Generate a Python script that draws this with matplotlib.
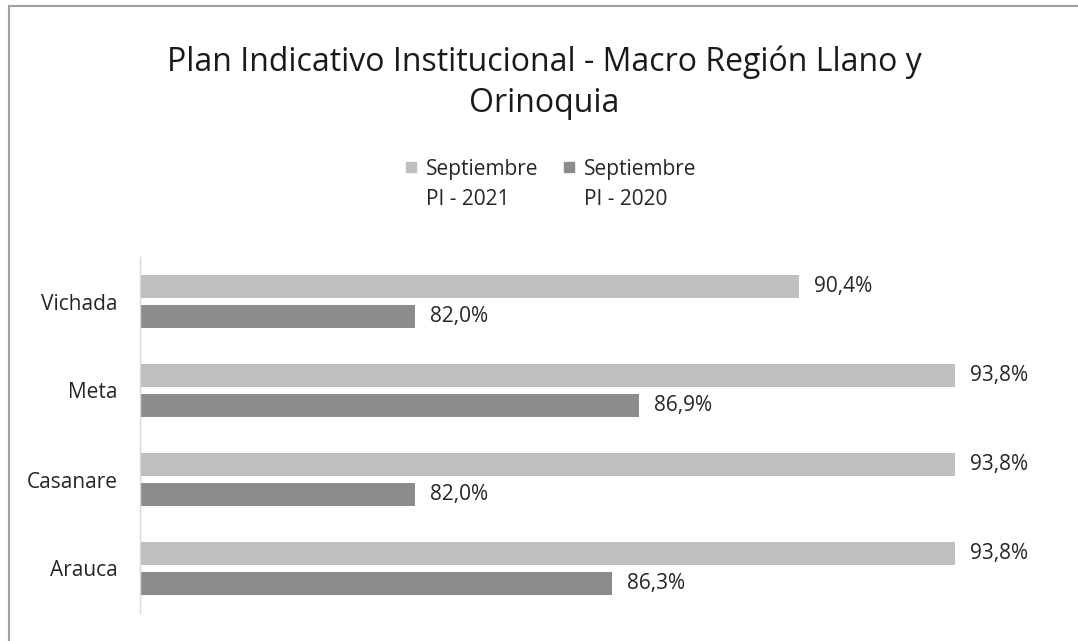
import matplotlib
matplotlib.use("Agg")
import matplotlib.pyplot as plt
from matplotlib.lines import Line2D
from matplotlib.patches import Rectangle

categories = ["Vichada", "Meta", "Casanare", "Arauca"]
series_names = ["Septiembre\nPI - 2021", "Septiembre\nPI - 2020"]
values_2021 = [90.4, 93.8, 93.8, 93.8]
values_2020 = [82.0, 86.9, 82.0, 86.3]
colors = ["#BFBFBF", "#8C8C8C"]

plt.rcParams['font.family'] = ['Open Sans', 'DejaVu Sans']

W, H = 1078, 641
fig = plt.figure(figsize=(W / 100, H / 100), dpi=100)
ax = fig.add_axes([140 / W, 1 - 613 / H, (964 - 140) / W, (613 - 257) / H])

n = len(categories)
ypos = list(range(n))
off = 0.17
h = 0.26
xmin, xmax = 76.0, 94.0
fs = 15

for vals, sgn, col in [(values_2021, -1, colors[0]), (values_2020, 1, colors[1])]:
    ys = [y + sgn * off for y in ypos]
    ax.barh(ys, [v - xmin for v in vals], left=xmin, height=h, color=col)
    for yv, v in zip(ys, vals):
        ax.text(v + 0.33, yv, f"{v:.1f}%".replace(".", ","), va="center", ha="left",
                fontsize=fs, color="#262626")

ax.set_xlim(xmin, xmax)
ax.set_ylim(n - 0.5, -0.5)
ax.set_yticks(ypos)
ax.set_yticklabels(categories, fontsize=fs, color="#262626")
ax.tick_params(axis="y", length=0, pad=16)
ax.set_xticks([])
for s in ["top", "right", "bottom"]:
    ax.spines[s].set_visible(False)
ax.spines["left"].set_color("#D9D9D9")
ax.spines["left"].set_linewidth(1.0)

fig.text(544 / W, 1 - 62 / H, "Plan Indicativo Institucional - Macro Región Llano y",
         ha="center", va="center", fontsize=23, color="#1a1a1a")
fig.text(544 / W, 1 - 104 / H, "Orinoquia", ha="center", va="center",
         fontsize=23, color="#1a1a1a")

# legend
leg_x = [411, 569]
for lx, name, col in zip(leg_x, series_names, colors):
    fig.add_artist(Rectangle(((lx - 5) / W, 1 - 172 / H), 10 / W, 10 / H,
                             transform=fig.transFigure, color=col))
    fig.text((lx + 15) / W, 1 - 170 / H, name.split("\n")[0], ha="left", va="center",
             fontsize=fs, color="#262626")
    fig.text((lx + 15) / W, 1 - 200 / H, name.split("\n")[1], ha="left", va="center",
             fontsize=fs, color="#262626")

# chart border
fig.add_artist(Line2D([9 / W, 9 / W], [0, 1 - 6 / H], transform=fig.transFigure,
                      color="#A0A0A0", linewidth=1.5))
fig.add_artist(Line2D([9 / W, 1], [1 - 6 / H, 1 - 6 / H], transform=fig.transFigure,
                      color="#A0A0A0", linewidth=1.5))

fig.savefig("out.png", dpi=100)
